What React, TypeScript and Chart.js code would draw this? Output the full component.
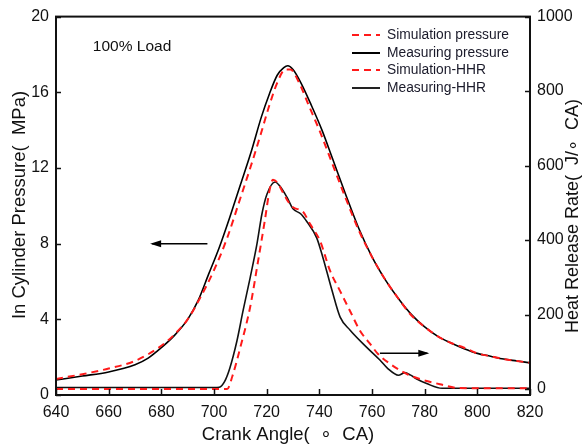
import React, { useEffect, useRef } from "react";
import { Chart, registerables } from "chart.js";

Chart.register(...registerables);

const FONT = '"Liberation Sans", Arial, Helvetica, sans-serif';

// ---- tick labels ----
const xTicks = [640, 660, 680, 700, 720, 740, 760, 780, 800, 820];
const pressureTicks = [0, 4, 8, 12, 16, 20];
const hhrTicks = [0, 200, 400, 600, 800, 1000];

// ---- series: Simulation pressure (MPa) ----
const simPressureX = [640, 650, 660, 670, 680, 685, 690, 695, 700, 705, 710, 714, 718, 721, 724, 727, 729, 732, 736, 740, 745, 750, 755, 760, 765, 770, 775, 780, 785, 790, 795, 800, 805, 810, 815, 820];
const simPressureY = [0.85, 1.1, 1.4, 1.8, 2.6, 3.2, 4.0, 5.2, 6.6, 8.3, 10.4, 12.1, 13.9, 15.3, 16.5, 17.2, 17.2, 16.6, 15.3, 14.0, 12.2, 10.4, 8.7, 7.3, 6.1, 5.1, 4.2, 3.6, 3.1, 2.75, 2.5, 2.2, 2.05, 1.9, 1.8, 1.7];

// ---- series: Measuring pressure (MPa) ----
const measPressureX = [640, 650, 660, 670, 675, 680, 685, 690, 694, 698, 702, 706, 710, 714, 718, 721, 724, 726.5, 728, 730, 733, 737, 741, 745, 750, 755, 760, 765, 770, 775, 780, 785, 790, 795, 800, 805, 810, 815, 820];
const measPressureY = [0.79, 1.0, 1.22, 1.6, 1.95, 2.5, 3.15, 4.0, 5.0, 6.4, 7.8, 9.4, 11.1, 12.8, 14.7, 15.9, 16.9, 17.3, 17.4, 17.2, 16.5, 15.3, 14.0, 12.5, 10.6, 8.8, 7.3, 6.1, 5.1, 4.25, 3.6, 3.1, 2.75, 2.45, 2.2, 2.05, 1.9, 1.8, 1.7];

// ---- series: Simulation-HHR (J/°CA) ----
const simHhrX = [640, 660, 680, 700, 705, 707, 710, 713.7, 716.7, 719.4, 721, 722.4, 724, 726, 728, 730, 733.8, 736.5, 740.3, 744.1, 747.9, 751.7, 755.5, 759.3, 762.3, 767, 773.3, 779, 785.8, 792.3, 800, 820];
const simHhrY = [0, 0, 0, 0, 0, 35, 112, 219, 342, 457, 530, 562, 555, 530, 505, 488, 476, 443, 397, 317, 263, 209, 156, 121, 94, 67, 40, 25, 13, 3, 2, 2];

// ---- series: Measuring-HHR (J/°CA) ----
const measHhrX = [640, 660, 680, 700, 702, 704, 706, 708.7, 711, 713.7, 716.3, 718.2, 720.1, 723.2, 725, 727.7, 730, 733, 735.3, 739, 741.4, 744.8, 747.9, 751.7, 758, 763, 766, 770, 772.5, 774.5, 777, 781, 786.6, 800, 820];
const measHhrY = [4, 4, 4, 4, 5, 20, 56, 129, 209, 298, 389, 470, 523, 556, 545, 515, 484, 470, 449, 406, 352, 265, 193, 158, 112, 78, 55, 37, 44, 38, 27, 14, 2, 2, 2];

const pts = (xs: number[], ys: number[]) => xs.map((x, i) => ({ x, y: ys[i] }));

const legendItems = [
  { label: "Simulation pressure", color: "#ff1a1a", dash: [7, 5] },
  { label: "Measuring pressure", color: "#000000", dash: [] as number[] },
  { label: "Simulation-HHR", color: "#ff1a1a", dash: [7, 5] },
  { label: "Measuring-HHR", color: "#222222", dash: [] as number[] },
];

const decorPlugin = {
  id: "decor",
  afterDraw(chart: any) {
    const { ctx, chartArea, scales } = chart;
    const { left, right, top, bottom } = chartArea;
    const x = scales.x, y = scales.y, y2 = scales.y2;
    ctx.save();
    // box
    ctx.strokeStyle = "#111";
    ctx.lineWidth = 2;
    ctx.setLineDash([]);
    ctx.strokeRect(left, top, right - left, bottom - top);
    // inward ticks
    ctx.lineWidth = 1.5;
    ctx.beginPath();
    xTicks.forEach((t) => {
      const px = Math.round(x.getPixelForValue(t)) + 0.5;
      ctx.moveTo(px, bottom);
      ctx.lineTo(px, bottom - 6);
    });
    pressureTicks.forEach((t) => {
      const py = Math.round(y.getPixelForValue(t)) + 0.5;
      ctx.moveTo(left, py);
      ctx.lineTo(left + 5, py);
    });
    hhrTicks.forEach((t) => {
      const py = Math.round(y2.getPixelForValue(t)) + 0.5;
      ctx.moveTo(right, py);
      ctx.lineTo(right - 5, py);
    });
    ctx.stroke();

    // arrows
    const arrow = (x1: number, yy: number, x2: number) => {
      ctx.strokeStyle = "#000";
      ctx.fillStyle = "#000";
      ctx.lineWidth = 1.5;
      ctx.beginPath();
      ctx.moveTo(x1, yy);
      ctx.lineTo(x2, yy);
      ctx.stroke();
      const dir = x2 > x1 ? 1 : -1;
      ctx.beginPath();
      ctx.moveTo(x2 + dir * 2, yy);
      ctx.lineTo(x2 - dir * 9, yy - 3.5);
      ctx.lineTo(x2 - dir * 9, yy + 3.5);
      ctx.closePath();
      ctx.fill();
    };
    arrow(x.getPixelForValue(697.5), y.getPixelForValue(8), x.getPixelForValue(676.5));
    arrow(x.getPixelForValue(763), y2.getPixelForValue(96), x.getPixelForValue(781));

    // annotation
    ctx.fillStyle = "#111";
    ctx.font = `15.5px ${FONT}`;
    ctx.textAlign = "left";
    ctx.textBaseline = "middle";
    ctx.fillText("100% Load", x.getPixelForValue(654), y.getPixelForValue(18.4));

    // legend
    ctx.font = `13.8px ${FONT}`;
    const lx0 = 352, lx1 = 380, tx = 387;
    const rows = [35, 53, 70, 88];
    legendItems.forEach((it, i) => {
      ctx.strokeStyle = it.color;
      ctx.lineWidth = 2;
      ctx.setLineDash(it.dash);
      ctx.beginPath();
      ctx.moveTo(lx0, rows[i]);
      ctx.lineTo(lx1, rows[i]);
      ctx.stroke();
      ctx.setLineDash([]);
      ctx.fillStyle = "#1a1a2a";
      ctx.fillText(it.label, tx, rows[i]);
    });

    // axis titles
    ctx.fillStyle = "#111";
    ctx.font = `18.5px ${FONT}`;
    ctx.textAlign = "center";
    ctx.fillText("Crank Angle(  ∘  CA)", 288, 435);
    ctx.save();
    ctx.translate(20, 205);
    ctx.rotate(-Math.PI / 2);
    ctx.fillText("In Cylinder Pressure(  MPa)", 0, 0);
    ctx.restore();
    ctx.font = `18px ${FONT}`;
    ctx.save();
    ctx.translate(573, 216);
    ctx.rotate(-Math.PI / 2);
    ctx.fillText("Heat Release Rate(  J/∘  CA)", 0, 0);
    ctx.restore();
    ctx.restore();
  },
};

export default function App() {
  const ref = useRef<HTMLCanvasElement | null>(null);
  useEffect(() => {
    document.body.style.margin = "0";
    const canvas = ref.current!;
    const tickFont = { family: FONT, size: 16 };
    const plain = (v: any) => String(v);
    const chart = new Chart(canvas, {
      type: "line",
      data: {
        datasets: [
          {
            label: "Simulation pressure",
            data: pts(simPressureX, simPressureY),
            yAxisID: "y",
            borderColor: "#ff1a1a",
            borderWidth: 2,
            borderDash: [7, 5],
            pointRadius: 0,
            cubicInterpolationMode: "monotone",
          },
          {
            label: "Measuring pressure",
            data: pts(measPressureX, measPressureY),
            yAxisID: "y",
            borderColor: "#000",
            borderWidth: 1.6,
            pointRadius: 0,
            cubicInterpolationMode: "monotone",
          },
          {
            label: "Simulation-HHR",
            data: pts(simHhrX, simHhrY),
            yAxisID: "y2",
            borderColor: "#ff1a1a",
            borderWidth: 2,
            borderDash: [7, 5],
            pointRadius: 0,
            cubicInterpolationMode: "monotone",
          },
          {
            label: "Measuring-HHR",
            data: pts(measHhrX, measHhrY),
            yAxisID: "y2",
            borderColor: "#111",
            borderWidth: 1.6,
            pointRadius: 0,
            cubicInterpolationMode: "monotone",
          },
        ],
      },
      options: {
        responsive: false,
        animation: false,
        layout: { padding: { top: 15, left: 0, right: 0, bottom: 0 } },
        plugins: { legend: { display: false }, tooltip: { enabled: false } },
        scales: {
          x: {
            type: "linear",
            min: 640,
            max: 820,
            afterBuildTicks: (s: any) => { s.ticks = xTicks.map((v) => ({ value: v })); },
            afterFit: (s: any) => { s.height = 53; },
            grid: { display: false, drawTicks: false },
            border: { display: false },
            ticks: { font: tickFont, color: "#111", padding: 8, maxRotation: 0, autoSkip: false, callback: plain },
          },
          y: {
            type: "linear",
            position: "left",
            min: 0,
            max: 20,
            afterBuildTicks: (s: any) => { s.ticks = pressureTicks.map((v) => ({ value: v })); },
            afterFit: (s: any) => { s.width = 56; },
            grid: { display: false, drawTicks: false },
            border: { display: false },
            ticks: { font: tickFont, color: "#111", padding: 7, callback: plain },
          },
          y2: {
            type: "linear",
            position: "right",
            min: -16,
            max: 1000,
            afterBuildTicks: (s: any) => { s.ticks = hhrTicks.map((v) => ({ value: v })); },
            afterFit: (s: any) => { s.width = 57; },
            grid: { display: false, drawTicks: false },
            border: { display: false },
            ticks: { font: tickFont, color: "#111", padding: 7, callback: plain },
          },
        },
      },
      plugins: [decorPlugin],
    } as any);
    return () => chart.destroy();
  }, []);
  return (
    <div style={{ width: 587, height: 448, background: "#fff" }}>
      <canvas ref={ref} width={587} height={448} style={{ display: "block" }} />
    </div>
  );
}
